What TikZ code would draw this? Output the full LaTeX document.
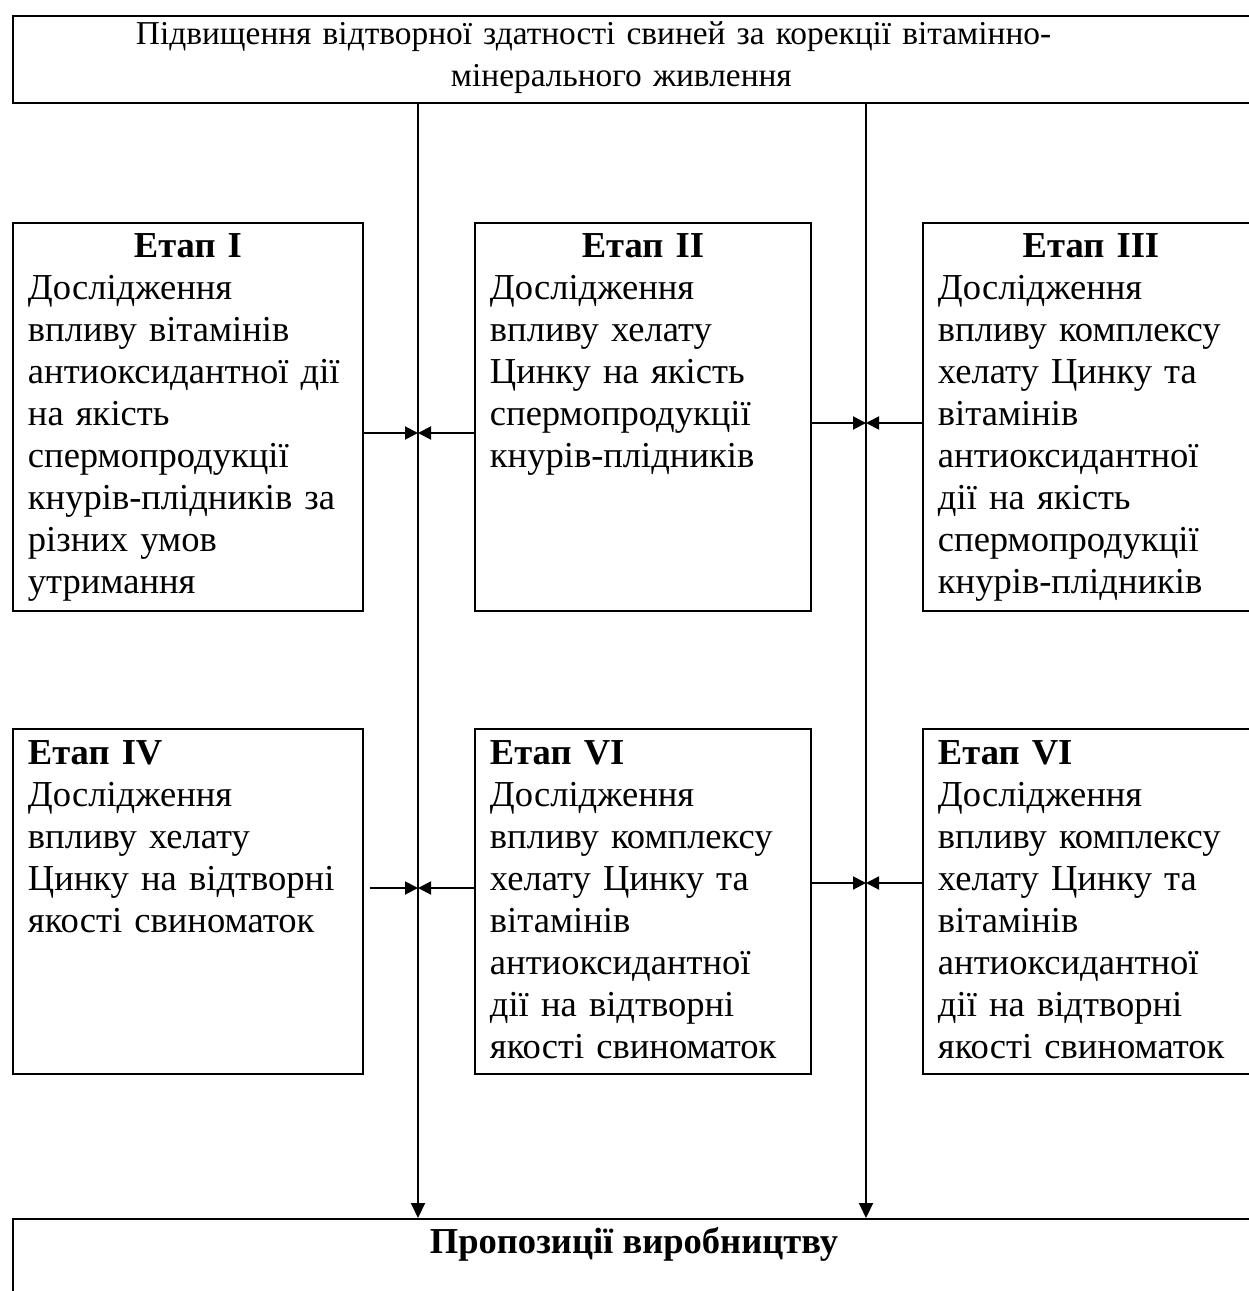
\documentclass[tikz,border=0pt]{standalone}
\usepackage{fontspec}
\setmainfont{Liberation Serif}
\usetikzlibrary{arrows.meta, positioning}

\newcommand{\etaphead}[2]{\makebox[#1][c]{\bfseries #2}}

\begin{document}
\begin{tikzpicture}[x=0.2mm, y=-0.2mm, line width=1.1pt]
    \tikzstyle{box}=[draw, anchor=north west, inner sep=0pt]
    \tikzstyle{stagetext}=[anchor=north west, inner sep=0pt, align=left
    , font=\fontsize{20.8}{23.9}\selectfont]
    \tikzstyle{link}=[-{Triangle[length=2.6mm, width=2.6mm]}]
    \tikzstyle{mainlink}=[-{Triangle[length=3mm, width=2.8mm]}]
    \useasboundingbox (0,0) rectangle (1248,1291);

    % goal and result
    \node[box, minimum width=250mm, minimum height=17.4mm] (goal) at (12,15) {};
    \node[anchor=north west, inner sep=0pt, align=left, text width=200mm
    , font=\fontsize{19}{23.9}\selectfont] (goaltext) at (135,21)
    {Підвищення відтворної здатності свиней за корекції вітамінно-\\\hspace*{63mm}мінерального живлення};
    \node[box, minimum width=249.2mm, minimum height=30mm] (offer) at (12,1218) {};
    \node[anchor=base, inner sep=0pt, font=\fontsize{20.8}{23.9}\selectfont\bfseries]
    (offertext) at (634,1253) {Пропозиції виробництву};

    % stages, first row
    \node[box, minimum width=70mm, minimum height=77.6mm] (st1) at (12,222) {};
    \node[box, minimum width=67.2mm, minimum height=77.6mm] (st2) at (474,222) {};
    \node[box, minimum width=67.2mm, minimum height=77.6mm] (st3) at (922,222) {};
    \node[stagetext, text width=67mm] (tx1) at ([xshift=3mm, yshift=-2.2mm]st1.north west)
    {\etaphead{64mm}{Етап I}\\Дослідження\\впливу вітамінів\\антиоксидантної дії\\на якість\\спермопродукції\\кнурів-плідників за\\різних умов\\утримання};
    \node[stagetext, text width=64.2mm] (tx2) at ([xshift=3mm, yshift=-2.2mm]st2.north west)
    {\etaphead{61.2mm}{Етап II}\\Дослідження\\впливу хелату\\Цинку на якість\\спермопродукції\\кнурів-плідників};
    \node[stagetext, text width=64.2mm] (tx3) at ([xshift=3mm, yshift=-2.2mm]st3.north west)
    {\etaphead{61.2mm}{Етап III}\\Дослідження\\впливу комплексу\\хелату Цинку та\\вітамінів\\антиоксидантної\\дії на якість\\спермопродукції\\кнурів-плідників};

    % stages, second row
    \node[box, minimum width=70mm, minimum height=69mm] (st4) at (12,728) {};
    \node[box, minimum width=67.2mm, minimum height=69mm] (st5) at (474,728) {};
    \node[box, minimum width=67.2mm, minimum height=69mm] (st6) at (922,728) {};
    \node[stagetext, text width=67mm] (tx4) at ([xshift=3mm, yshift=-2.4mm]st4.north west)
    {\textbf{Етап IV}\\Дослідження\\впливу хелату\\Цинку на відтворні\\якості свиноматок};
    \node[stagetext, text width=64.2mm] (tx5) at ([xshift=3mm, yshift=-2.4mm]st5.north west)
    {\textbf{Етап VI}\\Дослідження\\впливу комплексу\\хелату Цинку та\\вітамінів\\антиоксидантної\\дії на відтворні\\якості свиноматок};
    \node[stagetext, text width=64.2mm] (tx6) at ([xshift=3mm, yshift=-2.4mm]st6.north west)
    {\textbf{Етап VI}\\Дослідження\\впливу комплексу\\хелату Цинку та\\вітамінів\\антиоксидантної\\дії на відтворні\\якості свиноматок};

    % arrows
    \coordinate (col1) at (418,0);
    \coordinate (col2) at (866,0);
    \draw[mainlink] (goal.south -| col1) -- (offer.north -| col1);
    \draw[mainlink] (goal.south -| col2) -- (offer.north -| col2);

    \coordinate (m1) at (418,433);
    \coordinate (m2) at (866,423);
    \coordinate (m3) at (418,888);
    \coordinate (m4) at (866,883);
    \draw[link] (st1.east |- m1) -- (m1);
    \draw[link] (st2.west |- m1) -- (m1);
    \draw[link] (st2.east |- m2) -- (m2);
    \draw[link] (st3.west |- m2) -- (m2);
    \draw[link] ([xshift=1.2mm]st4.east |- m3) -- (m3);
    \draw[link] (st5.west |- m3) -- (m3);
    \draw[link] (st5.east |- m4) -- (m4);
    \draw[link] (st6.west |- m4) -- (m4);

\end{tikzpicture}
\end{document}
